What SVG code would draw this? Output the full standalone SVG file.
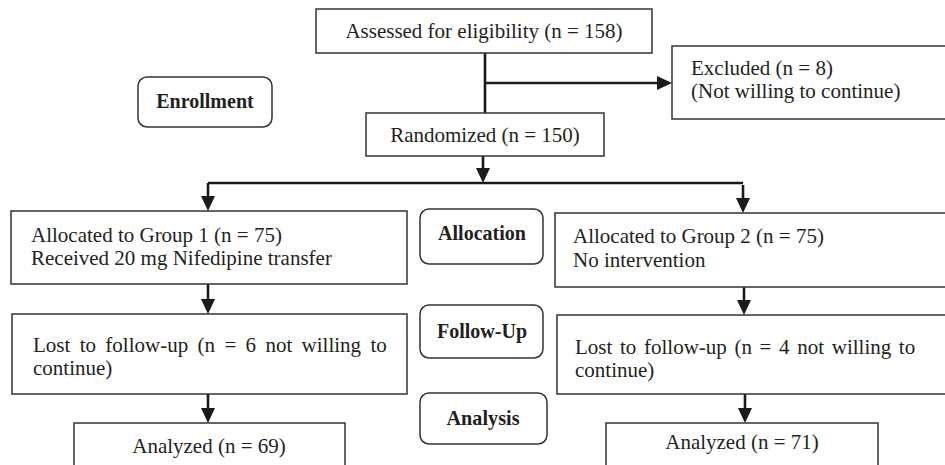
<svg xmlns="http://www.w3.org/2000/svg" width="945" height="465" viewBox="0 0 945 465">
<style>
.box{fill:#fff;stroke:#333;stroke-width:1.5}
.rbox{fill:#fff;stroke:#333;stroke-width:1.5}
.t{font-family:"Liberation Serif","Times New Roman",serif;font-size:21px;fill:#231f20}
.b{font-family:"Liberation Serif","Times New Roman",serif;font-size:20px;font-weight:bold;fill:#231f20;text-anchor:middle}
.c{text-anchor:middle}
.ln{fill:none;stroke:#1a1a1a;stroke-width:2.6}
</style>
<defs>
<marker id="ah" markerUnits="userSpaceOnUse" markerWidth="16" markerHeight="16" refX="1" refY="7" orient="auto" viewBox="0 0 16 14">
<path d="M0,0 L15,7 L0,14 z" fill="#1a1a1a"/>
</marker>
</defs>
<g id="connectors">
<line class="ln" x1="485" y1="53" x2="485" y2="113"/>
<line class="ln" x1="485" y1="83" x2="658" y2="83" marker-end="url(#ah)"/>
<line class="ln" x1="483" y1="156" x2="483" y2="169" marker-end="url(#ah)"/>
<polyline class="ln" points="208,183 743,183"/>
<line class="ln" x1="208" y1="183" x2="208" y2="197" marker-end="url(#ah)"/>
<line class="ln" x1="743" y1="185" x2="743" y2="199" marker-end="url(#ah)"/>
<line class="ln" x1="208" y1="284" x2="208" y2="300" marker-end="url(#ah)"/>
<line class="ln" x1="744" y1="287" x2="744" y2="301" marker-end="url(#ah)"/>
<line class="ln" x1="208" y1="394" x2="208" y2="409" marker-end="url(#ah)"/>
<line class="ln" x1="745" y1="394" x2="745" y2="409" marker-end="url(#ah)"/>
</g>
<g id="assessed">
<rect class="box" x="316" y="9" width="336" height="44"/>
<text class="t c" x="484" y="38">Assessed for eligibility (n = 158)</text>
</g>
<g id="excluded">
<rect class="box" x="672" y="46" width="275" height="73"/>
<text class="t" x="691" y="75">Excluded (n = 8)</text>
<text class="t" x="691" y="98">(Not willing to continue)</text>
</g>
<g id="enrollment">
<rect class="rbox" x="138" y="77" width="134" height="50" rx="9"/>
<text class="b" x="205" y="108">Enrollment</text>
</g>
<g id="randomized">
<rect class="box" x="366" y="113" width="238" height="43"/>
<text class="t c" x="485" y="142">Randomized (n = 150)</text>
</g>
<g id="group1">
<rect class="box" x="11" y="211" width="396" height="73"/>
<text class="t" x="31" y="242">Allocated to Group 1 (n = 75)</text>
<text class="t" x="31" y="265">Received 20 mg Nifedipine transfer</text>
</g>
<g id="allocation">
<rect class="rbox" x="420" y="209" width="123" height="55" rx="9"/>
<text class="b" x="482" y="240">Allocation</text>
</g>
<g id="group2">
<rect class="box" x="555" y="213" width="392" height="74"/>
<text class="t" x="573" y="243">Allocated to Group 2 (n = 75)</text>
<text class="t" x="573" y="267">No intervention</text>
</g>
<g id="lost1">
<rect class="box" x="12" y="314" width="395" height="80"/>
<text class="t" x="33" y="352" word-spacing="4.1">Lost to follow-up (n = 6 not willing to</text>
<text class="t" x="33" y="375">continue)</text>
</g>
<g id="followup">
<rect class="rbox" x="420" y="305" width="123" height="53" rx="9"/>
<text class="b" x="482" y="338" textLength="90" lengthAdjust="spacingAndGlyphs" style="font-size:22px">Follow-Up</text>
</g>
<g id="lost2">
<rect class="box" x="557" y="315" width="390" height="79"/>
<text class="t" x="575" y="354" word-spacing="2.4">Lost to follow-up (n = 4 not willing to</text>
<text class="t" x="575" y="377">continue)</text>
</g>
<g id="analysis">
<rect class="rbox" x="420" y="393" width="127" height="51" rx="9"/>
<text class="b" x="483" y="425" textLength="73" lengthAdjust="spacingAndGlyphs" style="font-size:21px">Analysis</text>
</g>
<g id="analyzed1">
<rect class="box" x="74" y="423" width="271" height="50"/>
<text class="t c" x="209" y="453">Analyzed (n = 69)</text>
</g>
<g id="analyzed2">
<rect class="box" x="606" y="423" width="272" height="50"/>
<text class="t c" x="742" y="449">Analyzed (n = 71)</text>
</g>
</svg>
